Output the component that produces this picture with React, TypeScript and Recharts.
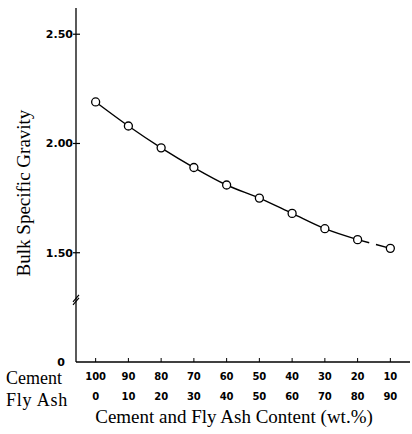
import React from "react";
import { LineChart, Line, XAxis, YAxis } from "recharts";

const cementContent = [100, 90, 80, 70, 60, 50, 40, 30, 20, 10];
const flyAshContent = [0, 10, 20, 30, 40, 50, 60, 70, 80, 90];
const bulkSpecificGravity = [2.19, 2.08, 1.98, 1.89, 1.81, 1.75, 1.68, 1.61, 1.56, 1.52];

const yTickValues = [1, 1.5, 2, 2.5];
const yTickLabels = ["0", "1.50", "2.00", "2.50"];
const axisBreakAt = 1.28;

const lastIdx = bulkSpecificGravity.length - 1;
const data = flyAshContent.map((fa, i) => ({
  flyAsh: fa,
  cement: cementContent[i],
  curve: i < lastIdx ? bulkSpecificGravity[i] : null,
  tail: i >= lastIdx - 1 ? bulkSpecificGravity[i] : null,
  marker: bulkSpecificGravity[i],
}));

const tickFont = "'DejaVu Sans', Verdana, sans-serif";
const serif = "'Liberation Serif', 'Times New Roman', serif";

const YTick = (props: any) => {
  const { x, y, payload } = props;
  const v = payload.value;
  if (Math.abs(v - axisBreakAt) < 1e-6) {
    return (
      <g>
        <line x1={x - 3} y1={y + 4} x2={x + 3} y2={y - 3} stroke="#000" strokeWidth={1.2} />
        <line x1={x - 3} y1={y + 1} x2={x + 3} y2={y - 6} stroke="#000" strokeWidth={1.2} />
      </g>
    );
  }
  const idx = yTickValues.findIndex((t) => Math.abs(t - v) < 1e-6);
  const label = idx >= 0 ? yTickLabels[idx] : "";
  if (idx === 0) {
    return (
      <text x={x - 15} y={y} dy={4} textAnchor="middle" fontFamily={tickFont} fontWeight="bold" fontSize={11} fill="#000">
        {label}
      </text>
    );
  }
  return (
    <g>
      <line x1={x - 3} y1={y} x2={x + 4} y2={y} stroke="#000" strokeWidth={1.2} />
      <text x={x - 3} y={y} dy={4} textAnchor="end" fontFamily={tickFont} fontWeight="bold" fontSize={11} fill="#000">
        {label}
      </text>
    </g>
  );
};

const XTick = (props: any) => {
  const { x, y, payload } = props;
  const i = flyAshContent.indexOf(payload.value);
  return (
    <g>
      <line x1={x} y1={y - 4} x2={x} y2={y} stroke="#000" strokeWidth={1} />
      <text x={x} y={y + 18} textAnchor="middle" fontFamily={tickFont} fontWeight="bold" fontSize={10} fill="#000">
        {cementContent[i]}
      </text>
      <text x={x} y={y + 38} textAnchor="middle" fontFamily={tickFont} fontWeight="bold" fontSize={10} fill="#000">
        {flyAshContent[i]}
      </text>
    </g>
  );
};

export default function App() {
  return (
    <div style={{ position: "absolute", left: 0, top: 0, width: 412, height: 434, background: "#fff" }}>
      <LineChart width={412} height={434} data={data} margin={{ top: 8, right: 2, bottom: 0, left: 0 }}>
        <XAxis
          dataKey="flyAsh"
          type="number"
          domain={[-6, 96]}
          ticks={flyAshContent}
          allowDataOverflow
          height={72}
          tickSize={0}
          tickMargin={0}
          tickLine={false}
          axisLine={{ stroke: "#000", strokeWidth: 1.3 }}
          tick={<XTick />}
          interval={0}
        />
        <YAxis
          type="number"
          domain={[1, 2.62]}
          ticks={[...yTickValues, axisBreakAt]}
          allowDataOverflow
          width={76}
          tickSize={0}
          tickMargin={0}
          tickLine={false}
          axisLine={{ stroke: "#000", strokeWidth: 1.3 }}
          tick={<YTick />}
          interval={0}
        />
        <Line dataKey="curve" type="monotone" stroke="#000" strokeWidth={1.4} dot={false} isAnimationActive={false} connectNulls={false} />
        <Line dataKey="tail" type="linear" stroke="#000" strokeWidth={1.4} strokeDasharray="12 7 40" dot={false} isAnimationActive={false} />
        <Line
          dataKey="marker"
          stroke="none"
          dot={{ r: 4, fill: "#fff", stroke: "#000", strokeWidth: 1.3 }}
          isAnimationActive={false}
        />
      </LineChart>
      <svg width={412} height={434} style={{ position: "absolute", left: 0, top: 0, pointerEvents: "none" }}>
        <text x={23} y={193} transform="rotate(-90 23 193)" textAnchor="middle" dominantBaseline="central" fontFamily={serif} fontSize={19} fill="#000">
          Bulk Specific Gravity
        </text>
        <text x={6} y={384} fontFamily={serif} fontSize={18} fill="#000">Cement</text>
        <text x={6} y={406} fontFamily={serif} fontSize={18} fill="#000" letterSpacing={0.8}>Fly Ash</text>
        <text x={234} y={423} textAnchor="middle" fontFamily={serif} fontSize={19} fill="#000">
          Cement and Fly Ash Content (wt.%)
        </text>
      </svg>
    </div>
  );
}
